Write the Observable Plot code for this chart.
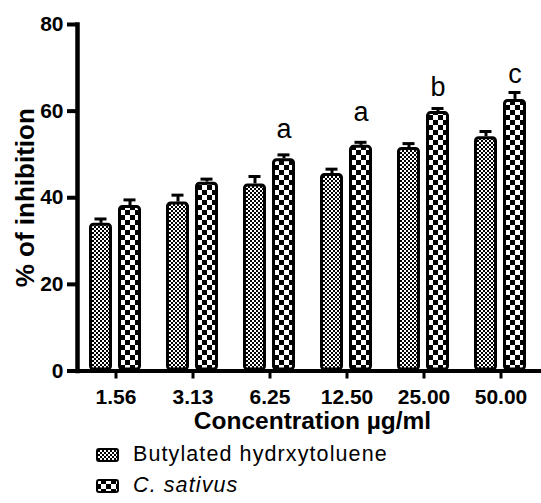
<!DOCTYPE html>
<html><head><meta charset="utf-8">
<script src="https://cdn.jsdelivr.net/npm/d3@7"></script>
<script src="https://cdn.jsdelivr.net/npm/@observablehq/plot@0.6"></script>
<style>
body{margin:0;background:#fff;}
#wrap{position:relative;width:541px;height:503px;overflow:hidden;font-family:"Liberation Sans",Arial,sans-serif;background:#fff;}
#wrap > svg{position:absolute;left:0;top:0;}
.legend{position:absolute;left:96px;top:439px;font-size:21.5px;letter-spacing:1.1px;color:#000;font-family:"Liberation Sans",Arial,sans-serif;}
.legend .row{display:flex;align-items:center;height:31px;}
.legend .row svg{margin-right:14px;}
</style></head><body>
<svg width="0" height="0" style="position:absolute">
<defs>
<pattern id="pBHT" patternUnits="userSpaceOnUse" width="4" height="4">
<rect width="4" height="4" fill="#fff"/><rect width="2" height="2" fill="#000"/><rect x="2" y="2" width="2" height="2" fill="#000"/>
</pattern>
<pattern id="pCS" patternUnits="userSpaceOnUse" width="10" height="10">
<rect width="10" height="10" fill="#000"/><rect width="5" height="5" fill="#fff"/><rect x="5" y="5" width="5" height="5" fill="#fff"/>
</pattern>
</defs>
</svg>
<div id="wrap"></div>
<script>
const concentrations = ["1.56", "3.13", "6.25", "12.50", "25.00", "50.00"];
const series = ["Butylated hydrxytoluene", "C. sativus"];
const bhtValues = [34.1, 39.0, 43.2, 45.6, 51.6, 54.1];
const bhtErrors = [1.0, 1.6, 1.7, 1.0, 0.9, 1.2];
const csValues = [38.2, 43.6, 49.0, 52.1, 59.9, 62.7];
const csErrors = [1.3, 0.7, 0.9, 0.7, 0.7, 1.6];
const letters = [null, null, "a", "a", "b", "c"];
const letterY = [null, null, 53.9, 57.7, 63.6, 66.6];
const yTicks = [0, 20, 40, 60, 80];
const xLabel = "Concentration µg/ml";
const yLabel = "% of inhibition";
const patterns = ["url(#pBHT)", "url(#pCS)"];

const data = concentrations.flatMap((c, i) => [
  {conc: c, series: series[0], value: bhtValues[i], err: bhtErrors[i]},
  {conc: c, series: series[1], value: csValues[i], err: csErrors[i]}
]);
const letterData = concentrations
  .map((c, i) => ({conc: c, series: series[1], label: letters[i], y: letterY[i]}))
  .filter(d => d.label);

const chart = Plot.plot({
  width: 541, height: 440,
  marginTop: 24, marginBottom: 69.5, marginLeft: 77, marginRight: 2,
  style: {fontFamily: '"Liberation Sans", Arial, sans-serif', fontWeight: "bold", background: "#fff", color: "#000", overflow: "visible"},
  fx: {domain: concentrations, padding: 0, label: null},
  x: {domain: series, paddingInner: 0.205, paddingOuter: 0.42, axis: null},
  y: {domain: [0, 80]},
  color: {domain: series, range: patterns},
  marks: [
    Plot.barY(data, {fx: "conc", x: "series", y: "value", fill: "series", stroke: "#000", strokeWidth: 3, inset: 1.5, rx: 3}),
    Plot.ruleX(data, {fx: "conc", x: "series", y1: "value", y2: d => d.value + d.err, stroke: "#000", strokeWidth: 3}),
    Plot.tickY(data, {fx: "conc", x: "series", y: d => d.value + d.err, stroke: "#000", strokeWidth: 3, insetLeft: 5.5, insetRight: 5.5}),
    Plot.text(letterData, {fx: "conc", x: "series", y: "y", text: "label", fontSize: 27, fontWeight: "normal", lineAnchor: "bottom", fill: "#000"}),
    Plot.axisY({ticks: yTicks, tickSize: 10, tickPadding: 4, fontSize: 21, strokeWidth: 4, label: null}),
    Plot.axisFx({anchor: "bottom", tickSize: 8, tickPadding: 10, fontSize: 21, strokeWidth: 3, label: null}),
    Plot.frame({anchor: "bottom", facet: "super", stroke: "#000", strokeWidth: 4}),
    Plot.frame({anchor: "left", facet: "super", stroke: "#000", strokeWidth: 4.5}),
    Plot.text([xLabel], {facet: "super", frameAnchor: "bottom", dx: 4, dy: 58, lineAnchor: "bottom", fontSize: 24.5, fill: "#000"}),
    Plot.text([yLabel], {facet: "super", frameAnchor: "left", dx: -44, rotate: -90, textAnchor: "middle", lineAnchor: "bottom", fontSize: 26, fill: "#000"})
  ]
});
const wrap = document.getElementById("wrap");
wrap.appendChild(chart);

const legend = document.createElement("div");
legend.className = "legend";
series.forEach((s, i) => {
  const row = document.createElement("div");
  row.className = "row";
  row.innerHTML = `<svg width="23" height="14"><rect x="1" y="1" width="21" height="12" rx="2" fill="${patterns[i]}" stroke="#000" stroke-width="2"/></svg>`;
  const span = document.createElement("span");
  span.textContent = s;
  if (i === 1) span.style.fontStyle = "italic";
  row.appendChild(span);
  legend.appendChild(row);
});
wrap.appendChild(legend);
</script>
</body></html>
